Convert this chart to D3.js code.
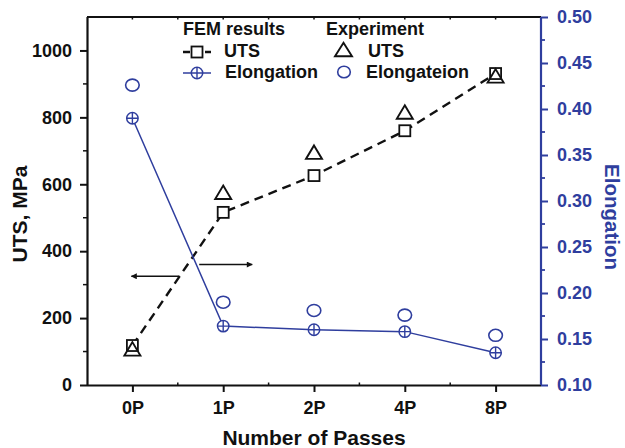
<!DOCTYPE html>
<html>
<head>
<meta charset="utf-8">
<script src="https://cdn.jsdelivr.net/npm/d3@7/dist/d3.min.js"></script>
<style>
  html, body { margin: 0; padding: 0; background: #fff; }
  svg { display: block; font-family: "Liberation Sans", Arial, Helvetica, sans-serif; font-weight: bold; }
</style>
</head>
<body>
<svg id="chart" width="625" height="448"></svg>
<script>
// Categories and measured series
const passes = ["0P", "1P", "2P", "4P", "8P"];
const femUTS = [118, 516, 626, 760, 931];
const expUTS = [108, 576, 696, 816, 924];
const femElong = [0.390, 0.164, 0.160, 0.158, 0.135];
const expElong = [0.426, 0.190, 0.181, 0.176, 0.154];
const utsTicks = [0, 200, 400, 600, 800, 1000];
const utsMinor = [100, 300, 500, 700, 900];
const elongTicks = [0.10, 0.15, 0.20, 0.25, 0.30, 0.35, 0.40, 0.45, 0.50];
const elongMinor = [0.125, 0.175, 0.225, 0.275, 0.325, 0.375, 0.425, 0.475];

const BLUE = "#2f3e9e";
const svg = d3.select("#chart");
const L = 87, R = 541, T = 17, B = 385;

const x = d3.scalePoint().domain(passes).range([L, R]).padding(0.5);
const yL = d3.scaleLinear().domain([0, 1100]).range([B, T]);
const yR = d3.scaleLinear().domain([0.10, 0.50]).range([B, T]);

// Frame top line with small inward ticks
svg.append("line").attr("x1", L).attr("x2", R).attr("y1", T).attr("y2", T)
  .attr("stroke", "#111").attr("stroke-width", 2);
const step = x.step();
const midX = passes.slice(0, -1).map(p => x(p) + step / 2);
svg.append("g").selectAll("line").data(passes.map(p => x(p)).concat(midX)).join("line")
  .attr("x1", d => d).attr("x2", d => d).attr("y1", T).attr("y2", T + 2.5)
  .attr("stroke", "#111").attr("stroke-width", 1.5);

// Bottom axis
const xAxis = svg.append("g").attr("transform", `translate(0,${B})`)
  .call(d3.axisBottom(x).tickSize(7).tickPadding(9));
xAxis.select(".domain").attr("d", `M${L},0.5H${R}`).attr("stroke", "#111").attr("stroke-width", 2.2);
xAxis.selectAll(".tick line").attr("stroke", "#111").attr("stroke-width", 2);
xAxis.selectAll(".tick text").attr("font-size", 18).attr("fill", "#111")
  .attr("font-family", "Liberation Sans, Arial, sans-serif").attr("font-weight", "bold");
svg.append("g").selectAll("line").data(midX).join("line")
  .attr("x1", d => d).attr("x2", d => d).attr("y1", B).attr("y2", B - 2.5)
  .attr("stroke", "#111").attr("stroke-width", 1.5);

// Left axis
const yAxisL = svg.append("g").attr("transform", `translate(${L},0)`)
  .call(d3.axisLeft(yL).tickValues(utsTicks).tickFormat(d3.format("d"))
    .tickSize(7).tickPadding(8).tickSizeOuter(0));
yAxisL.select(".domain").attr("d", `M0.5,${B}V${T}`).attr("stroke", "#111").attr("stroke-width", 2.2);
yAxisL.selectAll(".tick line").attr("stroke", "#111").attr("stroke-width", 2);
yAxisL.selectAll(".tick text").attr("font-size", 18).attr("fill", "#111")
  .attr("font-family", "Liberation Sans, Arial, sans-serif").attr("font-weight", "bold");
svg.append("g").selectAll("line").data(utsMinor).join("line")
  .attr("x1", L - 4).attr("x2", L).attr("y1", d => yL(d)).attr("y2", d => yL(d))
  .attr("stroke", "#111").attr("stroke-width", 1.5);

// Right axis
const yAxisR = svg.append("g").attr("transform", `translate(${R},0)`)
  .call(d3.axisRight(yR).tickValues(elongTicks).tickFormat(d3.format(".2f"))
    .tickSize(7).tickPadding(9).tickSizeOuter(0));
yAxisR.select(".domain").attr("d", `M0,${B}V${T}`).attr("stroke", BLUE).attr("stroke-width", 2.2);
yAxisR.selectAll(".tick line").attr("stroke", BLUE).attr("stroke-width", 2);
yAxisR.selectAll(".tick text").attr("font-size", 18).attr("fill", BLUE)
  .attr("font-family", "Liberation Sans, Arial, sans-serif").attr("font-weight", "bold");
svg.append("g").selectAll("line").data(elongMinor).join("line")
  .attr("x1", R).attr("x2", R + 4).attr("y1", d => yR(d)).attr("y2", d => yR(d))
  .attr("stroke", BLUE).attr("stroke-width", 1.8);

// Axis titles
svg.append("text").attr("transform", `translate(${(L + R) / 2},445)`)
  .attr("text-anchor", "middle").attr("font-size", 21).attr("fill", "#111")
  .text("Number of Passes");
svg.append("text").attr("transform", "translate(27,214) rotate(-90)")
  .attr("text-anchor", "middle").attr("font-size", 21).attr("fill", "#111")
  .text("UTS, MPa");
svg.append("text").attr("transform", "translate(605,217) rotate(90)")
  .attr("text-anchor", "middle").attr("font-size", 20.5).attr("fill", BLUE)
  .text("Elongation");

// Reading guides: left arrow → UTS axis, right arrow → Elongation axis
const defs = svg.append("defs");
defs.append("marker").attr("id", "arrowHead").attr("viewBox", "0 0 10 10")
  .attr("refX", 9).attr("refY", 5).attr("markerWidth", 11).attr("markerHeight", 6)
  .attr("markerUnits", "userSpaceOnUse").attr("orient", "auto")
  .append("path").attr("d", "M0,0L10,5L0,10Z").attr("fill", "#111");
svg.append("line").attr("x1", x("0P") + 47).attr("x2", x("0P") - 1)
  .attr("y1", yL(325)).attr("y2", yL(325))
  .attr("stroke", "#111").attr("stroke-width", 1.5).attr("marker-end", "url(#arrowHead)");
svg.append("line").attr("x1", x("1P") - 24).attr("x2", x("1P") + 29)
  .attr("y1", yL(360)).attr("y2", yL(360))
  .attr("stroke", "#111").attr("stroke-width", 1.5).attr("marker-end", "url(#arrowHead)");

// FEM UTS: dashed line with squares
const lineL = d3.line().x((d, i) => x(passes[i])).y(d => yL(d));
svg.append("path").datum(femUTS).attr("d", lineL)
  .attr("fill", "none").attr("stroke", "#111").attr("stroke-width", 2.4)
  .attr("stroke-dasharray", "9,6");

// FEM elongation: solid blue line
const lineR = d3.line().x((d, i) => x(passes[i])).y(d => yR(d));
svg.append("path").datum(femElong).attr("d", lineR)
  .attr("fill", "none").attr("stroke", BLUE).attr("stroke-width", 1.5);

svg.append("g").selectAll("rect").data(femUTS).join("rect")
  .attr("x", (d, i) => x(passes[i]) - 5.5).attr("y", d => yL(d) - 5.5)
  .attr("width", 11).attr("height", 11)
  .attr("fill", "#fff").attr("stroke", "#111").attr("stroke-width", 1.8);

// Experimental elongation: open circles
svg.append("g").selectAll("ellipse").data(expElong).join("ellipse")
  .attr("cx", (d, i) => x(passes[i])).attr("cy", d => yR(d))
  .attr("rx", 6.8).attr("ry", 6)
  .attr("fill", "none").attr("stroke", BLUE).attr("stroke-width", 1.6);

// FEM elongation markers: circle with cross
const crossG = svg.append("g").selectAll("g").data(femElong).join("g")
  .attr("transform", (d, i) => `translate(${x(passes[i])},${yR(d)})`);
crossG.append("circle").attr("r", 5.7).attr("fill", "#fff").attr("stroke", BLUE).attr("stroke-width", 1.5);
crossG.append("path").attr("d", "M-5.7,0H5.7M0,-5.7V5.7").attr("stroke", BLUE).attr("stroke-width", 1.4);

// Experimental UTS: open triangles
const tri = (w, h) => `M0,${-h / 2}L${w / 2},${h / 2}L${-w / 2},${h / 2}Z`;
svg.append("g").selectAll("path").data(expUTS).join("path")
  .attr("transform", (d, i) => `translate(${x(passes[i])},${yL(d)})`)
  .attr("d", tri(16, 13.5))
  .attr("fill", "none").attr("stroke", "#111").attr("stroke-width", 1.9).attr("stroke-linejoin", "miter");

// Legend
const lg = svg.append("g").attr("font-size", 18).attr("fill", "#111");
lg.append("text").attr("x", 183).attr("y", 35).text("FEM results");
lg.append("line").attr("x1", 183).attr("x2", 211).attr("y1", 52).attr("y2", 52)
  .attr("stroke", "#111").attr("stroke-width", 2.4).attr("stroke-dasharray", "7,4");
lg.append("rect").attr("x", 191.5).attr("y", 46.5).attr("width", 11).attr("height", 11)
  .attr("fill", "#fff").attr("stroke", "#111").attr("stroke-width", 1.8);
lg.append("text").attr("x", 224).attr("y", 57).text("UTS");
lg.append("line").attr("x1", 183).attr("x2", 211).attr("y1", 73).attr("y2", 73)
  .attr("stroke", BLUE).attr("stroke-width", 1.5);
const lgc = lg.append("g").attr("transform", "translate(197,73)");
lgc.append("circle").attr("r", 5.7).attr("fill", "#fff").attr("stroke", BLUE).attr("stroke-width", 1.5);
lgc.append("path").attr("d", "M-5.7,0H5.7M0,-5.7V5.7").attr("stroke", BLUE).attr("stroke-width", 1.4);
lg.append("text").attr("x", 225).attr("y", 78).text("Elongation");

lg.append("text").attr("x", 326).attr("y", 35).text("Experiment");
lg.append("path").attr("transform", "translate(343.5,49.5)").attr("d", tri(17, 13.5))
  .attr("fill", "none").attr("stroke", "#111").attr("stroke-width", 1.9);
lg.append("text").attr("x", 368).attr("y", 57).text("UTS");
lg.append("ellipse").attr("cx", 344).attr("cy", 72).attr("rx", 6.3).attr("ry", 5.8)
  .attr("fill", "none").attr("stroke", BLUE).attr("stroke-width", 1.6);
lg.append("text").attr("x", 366).attr("y", 78).text("Elongateion");
</script>
</body>
</html>
